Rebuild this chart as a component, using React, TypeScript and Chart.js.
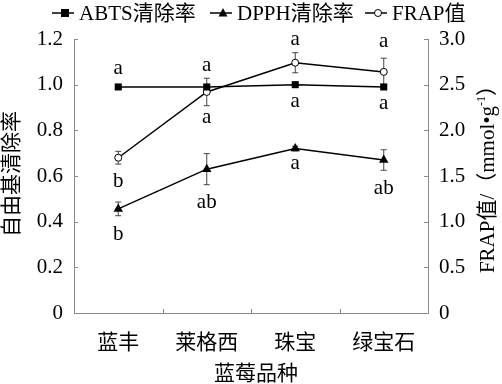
import React, { useEffect, useRef } from "react";
import { Chart, registerables } from "chart.js";

Chart.register(...registerables);

const categories = ["蓝丰", "莱格西", "珠宝", "绿宝石"];
const abts = [0.99, 0.99, 1.0, 0.99];
const abtsErr = [0.005, 0.006, 0.005, 0.005];
const dpph = [0.456, 0.63, 0.72, 0.67];
const dpphErr = [0.03, 0.068, 0.01, 0.045];
const frap = [1.7, 2.42, 2.74, 2.64];
const frapErr = [0.07, 0.15, 0.11, 0.15];
const abtsLetters = ["a", "a", "a", "a"];
const dpphLetters = ["b", "ab", "a", "ab"];
const frapLetters = ["b", "a", "a", "a"];
const leftTicks = [0, 0.2, 0.4, 0.6, 0.8, 1.0, 1.2];
const rightTicks = [0, 0.5, 1.0, 1.5, 2.0, 2.5, 3.0];

const FONT = "'Liberation Serif', 'Noto Sans CJK SC', serif";
const FS = 21;
const AXIS_COLOR = "#8a8a8a";

// pixel offsets for letter annotations relative to their point
const abtsLetterOff = [-18, -21, 17, 17];
const frapLetterOff = [24, 26, -23, -30];
const dpphLetterOff = [26, 33, 15, 28];

function drawMarker(ctx: CanvasRenderingContext2D, style: string, x: number, y: number) {
  ctx.save();
  ctx.fillStyle = "#000";
  ctx.strokeStyle = "#000";
  ctx.lineWidth = 1;
  if (style === "rect") {
    ctx.fillRect(x - 4, y - 4, 8, 8);
  } else if (style === "triangle") {
    ctx.beginPath();
    ctx.moveTo(x, y - 5);
    ctx.lineTo(x + 4.5, y + 3.5);
    ctx.lineTo(x - 4.5, y + 3.5);
    ctx.closePath();
    ctx.fill();
  } else {
    ctx.fillStyle = "#fff";
    ctx.beginPath();
    ctx.arc(x, y, 3.5, 0, Math.PI * 2);
    ctx.fill();
    ctx.stroke();
  }
  ctx.restore();
}

const decorPlugin = {
  id: "decor",
  beforeDatasetsDraw(chart: any) {
    const ctx = chart.ctx as CanvasRenderingContext2D;
    const xs = chart.scales.x;
    const sets = [
      { vals: abts, errs: abtsErr, sc: chart.scales.y },
      { vals: dpph, errs: dpphErr, sc: chart.scales.y },
      { vals: frap, errs: frapErr, sc: chart.scales.y1 },
    ];
    ctx.save();
    ctx.strokeStyle = "#444";
    ctx.lineWidth = 1;
    for (const s of sets) {
      s.vals.forEach((v, i) => {
        const x = xs.getPixelForValue(i);
        const y1 = s.sc.getPixelForValue(v + s.errs[i]);
        const y2 = s.sc.getPixelForValue(v - s.errs[i]);
        ctx.beginPath();
        ctx.moveTo(x, y1);
        ctx.lineTo(x, y2);
        ctx.moveTo(x - 3, y1);
        ctx.lineTo(x + 3, y1);
        ctx.moveTo(x - 3, y2);
        ctx.lineTo(x + 3, y2);
        ctx.stroke();
      });
    }
    ctx.restore();
  },
  afterDraw(chart: any) {
    const ctx = chart.ctx as CanvasRenderingContext2D;
    const xs = chart.scales.x;
    const ys = chart.scales.y;
    const ys1 = chart.scales.y1;
    const area = chart.chartArea;
    ctx.save();
    // inward ticks
    ctx.strokeStyle = AXIS_COLOR;
    ctx.lineWidth = 1;
    ctx.beginPath();
    leftTicks.forEach((t) => {
      const y = Math.round(ys.getPixelForValue(t)) + 0.5;
      ctx.moveTo(area.left, y);
      ctx.lineTo(area.left + 4, y);
    });
    rightTicks.forEach((t) => {
      const y = Math.round(ys1.getPixelForValue(t)) + 0.5;
      ctx.moveTo(area.right, y);
      ctx.lineTo(area.right - 4, y);
    });
    for (let i = 0; i < categories.length - 1; i++) {
      const x = Math.round((xs.getPixelForValue(i) + xs.getPixelForValue(i + 1)) / 2) + 0.5;
      ctx.moveTo(x, area.bottom);
      ctx.lineTo(x, area.bottom - 4);
    }
    ctx.stroke();

    // letters
    ctx.fillStyle = "#000";
    ctx.font = `${FS}px ${FONT}`;
    ctx.textAlign = "center";
    ctx.textBaseline = "middle";
    const letterSets = [
      { vals: abts, l: abtsLetters, off: abtsLetterOff, sc: ys },
      { vals: dpph, l: dpphLetters, off: dpphLetterOff, sc: ys },
      { vals: frap, l: frapLetters, off: frapLetterOff, sc: ys1 },
    ];
    for (const s of letterSets) {
      s.vals.forEach((v, i) => {
        ctx.fillText(s.l[i], xs.getPixelForValue(i), s.sc.getPixelForValue(v) + s.off[i]);
      });
    }

    // axis titles
    ctx.save();
    ctx.translate(12, 174);
    ctx.rotate(-Math.PI / 2);
    ctx.fillText("自由基清除率", 0, 0);
    ctx.restore();

    ctx.save();
    ctx.translate(488, 174);
    ctx.rotate(-Math.PI / 2);
    const p1 = "FRAP值/（mmol•g";
    const sup = "-1";
    const p3 = "）";
    ctx.font = `${FS}px ${FONT}`;
    const w1 = ctx.measureText(p1).width;
    const w3 = ctx.measureText(p3).width;
    ctx.font = `12px ${FONT}`;
    const w2 = ctx.measureText(sup).width;
    const total = w1 + w2 + w3;
    const x0 = -total / 2;
    ctx.textAlign = "left";
    ctx.font = `${FS}px ${FONT}`;
    ctx.fillText(p1, x0, 0);
    ctx.font = `12px ${FONT}`;
    ctx.fillText(sup, x0 + w1, -6);
    ctx.font = `${FS}px ${FONT}`;
    ctx.fillText(p3, x0 + w1 + w2, 0);
    ctx.restore();

    ctx.textAlign = "center";
    ctx.fillText("蓝莓品种", 256, 374);

    // legend
    const items = [
      { label: "ABTS清除率", style: "rect", x: 52 },
      { label: "DPPH清除率", style: "triangle", x: 210 },
      { label: "FRAP值", style: "circle", x: 365 },
    ];
    const ly = 13;
    ctx.textAlign = "left";
    for (const it of items) {
      ctx.strokeStyle = "#000";
      ctx.lineWidth = 1.5;
      ctx.beginPath();
      ctx.moveTo(it.x, ly);
      ctx.lineTo(it.x + 22, ly);
      ctx.stroke();
      drawMarker(ctx, it.style, it.x + 13, ly);
      ctx.fillStyle = "#000";
      ctx.fillText(it.label, it.x + 27, ly + 1);
    }
    ctx.restore();
  },
};

export default function App() {
  const ref = useRef<HTMLCanvasElement | null>(null);
  useEffect(() => {
    if (!ref.current) return;
    const tickFont = { family: FONT, size: FS };
    const chart = new Chart(ref.current, {
      type: "line",
      data: {
        labels: categories,
        datasets: [
          {
            label: "ABTS清除率",
            data: abts,
            yAxisID: "y",
            borderColor: "#000",
            backgroundColor: "#000",
            borderWidth: 1.5,
            pointStyle: "rect",
            pointRadius: 5,
            pointBorderWidth: 0,
          },
          {
            label: "DPPH清除率",
            data: dpph,
            yAxisID: "y",
            borderColor: "#000",
            backgroundColor: "#000",
            borderWidth: 1.5,
            pointStyle: "triangle",
            pointRadius: 5.5,
            pointBorderWidth: 0,
          },
          {
            label: "FRAP值",
            data: frap,
            yAxisID: "y1",
            borderColor: "#000",
            backgroundColor: "#fff",
            borderWidth: 1.5,
            pointStyle: "circle",
            pointRadius: 3.5,
            pointBorderWidth: 1,
          },
        ],
      },
      options: {
        animation: false,
        responsive: false,
        devicePixelRatio: 1,
        layout: { padding: { top: 39, left: 0, right: 0, bottom: 0 } },
        plugins: { legend: { display: false }, tooltip: { enabled: false } },
        scales: {
          x: {
            type: "category",
            offset: true,
            grid: { display: false, drawTicks: false },
            border: { display: true, color: AXIS_COLOR, width: 1 },
            ticks: { font: tickFont, color: "#000", padding: 18, maxRotation: 0 },
            afterFit: (s: any) => {
              s.height = 71;
            },
          },
          y: {
            position: "left",
            min: 0,
            max: 1.2,
            grid: { display: false, drawTicks: false },
            border: { display: true, color: AXIS_COLOR, width: 1 },
            ticks: {
              stepSize: 0.2,
              font: tickFont,
              color: "#000",
              padding: 11,
              callback: (v: any) => (Number(v) === 0 ? "0" : Number(v).toFixed(1)),
            },
            afterFit: (s: any) => {
              s.width = 74;
            },
          },
          y1: {
            position: "right",
            min: 0,
            max: 3.0,
            grid: { display: false, drawTicks: false },
            border: { display: true, color: AXIS_COLOR, width: 1 },
            ticks: {
              stepSize: 0.5,
              font: tickFont,
              color: "#000",
              padding: 11,
              callback: (v: any) => (Number(v) === 0 ? "0" : Number(v).toFixed(1)),
            },
            afterFit: (s: any) => {
              s.width = 74;
            },
          },
        },
      } as any,
      plugins: [decorPlugin],
    });
    return () => chart.destroy();
  }, []);
  return (
    <div style={{ position: "absolute", left: 0, top: 0, width: 502, height: 384, background: "#fff" }}>
      <canvas ref={ref} width={502} height={384} style={{ width: 502, height: 384 }} />
    </div>
  );
}
